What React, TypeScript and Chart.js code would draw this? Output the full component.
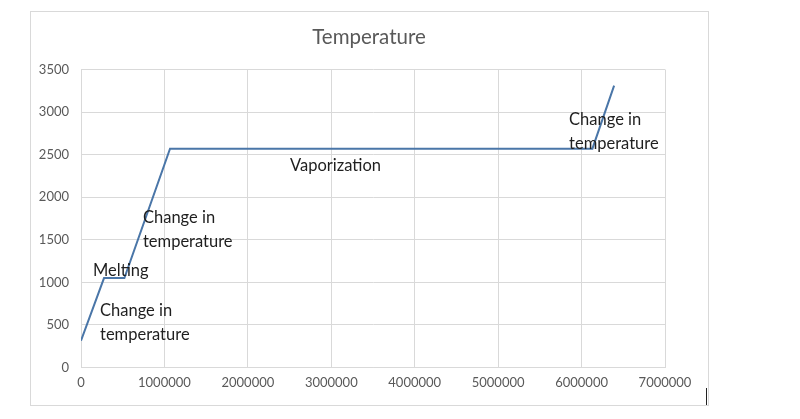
import React, { useEffect, useRef } from "react";
import { Chart, registerables } from "chart.js";

Chart.register(...registerables);

const titleText = "Temperature";
const heatValues = [0, 276000, 520000, 1067000, 6130000, 6390000];
const tempValues = [315, 1050, 1050, 2570, 2570, 3310];

const xTickMin = 0;
const xTickMax = 7000000;
const xTickStep = 1000000;
const yTickMin = 0;
const yTickMax = 3500;
const yTickStep = 500;

const noteTexts = ["Change in", "temperature", "Melting", "Change in", "temperature", "Vaporization", "Change in", "temperature"];
const noteX = [228000, 228000, 144000, 743000, 743000, 2506000, 5850000, 5850000];
const noteY = [663, 381, 1133, 1755, 1473, 2365, 2905, 2623];

const FONT = "Lato, 'Noto Sans', sans-serif";

const framePlugin = {
  id: "frame",
  beforeDraw(chart: any) {
    const ctx = chart.ctx;
    ctx.save();
    ctx.fillStyle = "#ffffff";
    ctx.fillRect(0, 0, chart.width, chart.height);
    ctx.strokeStyle = "#d9d9d9";
    ctx.lineWidth = 1;
    ctx.strokeRect(30.5, 11.5, 678, 394);
    ctx.strokeStyle = "#222222";
    ctx.beginPath();
    ctx.moveTo(706.5, 388);
    ctx.lineTo(706.5, 405);
    ctx.stroke();
    ctx.font = "20.5px " + FONT;
    ctx.fillStyle = "#595959";
    ctx.textAlign = "center";
    ctx.textBaseline = "middle";
    ctx.fillText(titleText, 369, 37);
    ctx.restore();
  },
  afterDatasetsDraw(chart: any) {
    const ctx = chart.ctx;
    const xs = chart.scales.x;
    const ys = chart.scales.y;
    ctx.save();
    ctx.font = "16.5px " + FONT;
    ctx.fillStyle = "#1f1f1f";
    ctx.textAlign = "left";
    ctx.textBaseline = "middle";
    for (let i = 0; i < noteTexts.length; i++) {
      ctx.fillText(noteTexts[i], xs.getPixelForValue(noteX[i]), ys.getPixelForValue(noteY[i]));
    }
    ctx.restore();
  },
};

export default function App() {
  const ref = useRef<HTMLCanvasElement | null>(null);
  useEffect(() => {
    document.body.style.margin = "0";
    const canvas = ref.current;
    if (!canvas) return;
    const chart = new Chart(canvas, {
      type: "scatter",
      data: {
        datasets: [
          {
            label: titleText,
            data: heatValues.map((x, i) => ({ x, y: tempValues[i] })),
            showLine: true,
            borderColor: "#4a76a8",
            backgroundColor: "#4a76a8",
            borderWidth: 2,
            pointRadius: 0,
            tension: 0,
          },
        ],
      },
      options: {
        animation: false,
        responsive: false,
        devicePixelRatio: 1,
        layout: { padding: { left: 30, right: 135, top: 69.5, bottom: 14 } },
        plugins: {
          legend: { display: false },
          tooltip: { enabled: false },
          title: { display: false },
        },
        scales: {
          x: {
            type: "linear",
            min: xTickMin,
            max: xTickMax,
            ticks: {
              stepSize: xTickStep,
              color: "#595959",
              font: { family: FONT, size: 13 },
              padding: 8,
              maxRotation: 0,
              callback: (v: any) => String(v),
            },
            grid: { color: "#d9d9d9", drawTicks: false },
            border: { color: "#d9d9d9" },
            afterFit: (s: any) => {
              s.height = 37.5;
            },
          },
          y: {
            type: "linear",
            min: yTickMin,
            max: yTickMax,
            ticks: {
              stepSize: yTickStep,
              color: "#595959",
              font: { family: FONT, size: 13 },
              padding: 12,
              callback: (v: any) => String(v),
            },
            grid: { color: "#d9d9d9", drawTicks: false },
            border: { color: "#d9d9d9" },
            afterFit: (s: any) => {
              s.width = 51;
            },
          },
        },
      },
      plugins: [framePlugin],
    });
    return () => chart.destroy();
  }, []);
  return <canvas ref={ref} width={800} height={419} style={{ display: "block", width: 800, height: 419 }} />;
}
